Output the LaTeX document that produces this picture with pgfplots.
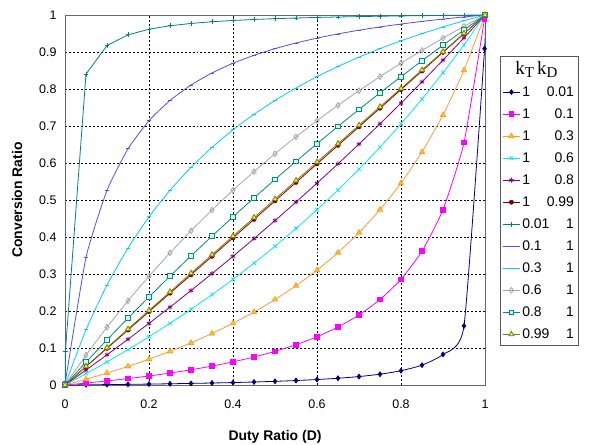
\documentclass[border=0pt]{standalone}
\usepackage{fontspec}
\setmainfont{Liberation Sans}
\newfontfamily\serif{Liberation Serif}
\usepackage{pgfplots}
\pgfplotsset{compat=1.18}

\definecolor{cNavy}{RGB}{0,0,128}
\definecolor{cMag}{RGB}{255,0,255}
\definecolor{cOrange}{RGB}{255,153,51}
\definecolor{cYellow}{RGB}{255,204,0}
\definecolor{cCyan}{RGB}{0,238,238}
\definecolor{cPurple}{RGB}{128,0,128}
\definecolor{cDRed}{RGB}{128,0,0}
\definecolor{cTeal}{RGB}{0,128,128}
\definecolor{cBlue}{RGB}{80,80,240}
\definecolor{cSky}{RGB}{0,204,255}
\definecolor{cGray}{RGB}{165,165,165}
\definecolor{cGreen}{RGB}{0,140,120}
\definecolor{cLGreen}{RGB}{204,255,230}
\definecolor{cOlive}{RGB}{128,128,0}
\definecolor{cLYel}{RGB}{240,240,80}

\newcommand{\lent}[2]{\makebox[1.75em][l]{#1}\makebox[1.95em][r]{#2}}

\begin{document}
\begin{tikzpicture}
\begin{axis}[
    scale only axis,
    width=420bp, height=370bp,
    xmin=0, xmax=1, ymin=0, ymax=1,
    xtick={0,0.2,...,1},
    ytick={0,0.1,...,1},
    xticklabels={0,0.2,0.4,0.6,0.8,1},
    yticklabels={0,0.1,0.2,0.3,0.4,0.5,0.6,0.7,0.8,0.9,1},
    major tick length=0pt,
    tick label style={font=\fontsize{12.5}{14}\selectfont},
    xticklabel style={yshift=-11bp},
    yticklabel style={xshift=-5bp},
    xmajorgrids, ymajorgrids,
    grid style={black, dash pattern=on 2pt off 2pt, line width=0.5pt},
    axis line style={draw=gray!80!black, line width=0.8pt},
    xlabel={\textbf{Duty Ratio (D)}},
    ylabel={\textbf{Conversion Ratio}},
    label style={font=\fontsize{14}{16}\selectfont},
    xlabel style={yshift=-15bp},
    ylabel style={yshift=10bp},
    every axis plot/.append style={line width=0.8pt, smooth, tension=0.3},
    legend style={at={(1.036,0.89)}, anchor=north west,
        draw=gray!70!black, line width=0.8pt,
        font=\fontsize{14}{16}\selectfont, row sep=6.8bp,
        inner xsep=2bp, inner ysep=3bp},
    legend cell align=left,
    legend image post style={line width=0.8pt},
]
\addlegendimage{empty legend}
\addlegendentry{\hspace{-0.5em}{\serif\fontsize{19}{20}\selectfont k\raisebox{-0.35ex}{\fontsize{15}{16}\selectfont T}\,k\raisebox{-0.35ex}{\fontsize{15}{16}\selectfont D}}}

\addplot[cNavy, mark=diamond*, mark size=2.4pt, mark options={fill=cNavy}] coordinates {
(0,0) (0.05,0.0005) (0.1,0.0011) (0.15,0.0018) (0.2,0.0025) (0.25,0.0033) (0.3,0.0043)
(0.35,0.0054) (0.4,0.0066) (0.45,0.0081) (0.5,0.0099) (0.55,0.0121) (0.6,0.0148)
(0.65,0.0182) (0.7,0.0228) (0.75,0.0291) (0.8,0.0385) (0.85,0.0536) (0.9,0.0826)
(0.95,0.1597) (0.999,0.909) (1,1)};
\addlegendentry{\lent{1}{0.01}}

\addplot[cMag, mark=square*, mark size=2.3pt, mark options={fill=cMag}] coordinates {
(0,0) (0.05,0.0052) (0.1,0.0110) (0.15,0.0173) (0.2,0.0244) (0.25,0.0323) (0.3,0.0411)
(0.35,0.0511) (0.4,0.0625) (0.45,0.0756) (0.5,0.0909) (0.55,0.1089) (0.6,0.1304)
(0.65,0.1566) (0.7,0.1892) (0.75,0.2308) (0.8,0.2857) (0.85,0.3617) (0.9,0.4737)
(0.95,0.6552) (0.999,0.9901) (1,1)};
\addlegendentry{\lent{1}{0.1}}

\addplot[cOrange, mark=triangle*, mark size=3pt, mark options={fill=cYellow, draw=cOrange}] coordinates {
(0,0) (0.05,0.0155) (0.1,0.0323) (0.15,0.0503) (0.2,0.0698) (0.25,0.0909) (0.3,0.1139)
(0.35,0.1391) (0.4,0.1667) (0.45,0.1971) (0.5,0.2308) (0.55,0.2683) (0.6,0.3103)
(0.65,0.3578) (0.7,0.4118) (0.75,0.4737) (0.8,0.5455) (0.85,0.6296) (0.9,0.7297)
(0.95,0.8507) (1,1)};
\addlegendentry{\lent{1}{0.3}}

\addplot[cCyan, mark=x, mark size=2.5pt] coordinates {
(0,0) (0.05,0.0306) (0.1,0.0625) (0.15,0.0957) (0.2,0.1304) (0.25,0.1667) (0.3,0.2045)
(0.35,0.2442) (0.4,0.2857) (0.45,0.3293) (0.5,0.375) (0.55,0.4231) (0.6,0.4737)
(0.65,0.5270) (0.7,0.5833) (0.75,0.6429) (0.8,0.7059) (0.85,0.7727) (0.9,0.8438)
(0.95,0.9194) (1,1)};
\addlegendentry{\lent{1}{0.6}}

\addplot[cPurple, mark=asterisk, mark size=2.5pt] coordinates {
(0,0) (0.05,0.0404) (0.1,0.0816) (0.15,0.1237) (0.2,0.1667) (0.25,0.2105) (0.3,0.2553)
(0.35,0.3011) (0.4,0.3478) (0.45,0.3956) (0.5,0.4444) (0.55,0.4944) (0.6,0.5455)
(0.65,0.5977) (0.7,0.6512) (0.75,0.7059) (0.8,0.7619) (0.85,0.8193) (0.9,0.8780)
(0.95,0.9383) (1,1)};
\addlegendentry{\lent{1}{0.8}}

\addplot[cDRed, mark=*, mark size=2pt, mark options={fill=cDRed}] coordinates {
(0,0) (0.05,0.0495) (0.1,0.0991) (0.15,0.1487) (0.2,0.1984) (0.25,0.2481) (0.3,0.2979)
(0.35,0.3477) (0.4,0.3976) (0.45,0.4475) (0.5,0.4975) (0.55,0.5475) (0.6,0.5976)
(0.65,0.6477) (0.7,0.6979) (0.75,0.7481) (0.8,0.7984) (0.85,0.8487) (0.9,0.8991)
(0.95,0.9495) (1,1)};
\addlegendentry{\lent{1}{0.99}}

\addplot[cTeal, mark=+, mark size=2.5pt, sharp plot] coordinates {
(0,0) (0.001,0.091) (0.05,0.8403) (0.1,0.9174) (0.15,0.9464) (0.2,0.9615) (0.25,0.9709)
(0.3,0.9772) (0.35,0.9818) (0.4,0.9852) (0.45,0.9879) (0.5,0.9901) (0.55,0.9919)
(0.6,0.9934) (0.65,0.9946) (0.7,0.9957) (0.75,0.9967) (0.8,0.9975) (0.85,0.9982)
(0.9,0.9989) (0.95,0.9995) (1,1)};
\addlegendentry{\lent{0.01}{1}}

\addplot[cBlue, mark=-, mark size=2.5pt] coordinates {
(0,0) (0.001,0.0099) (0.05,0.3448) (0.1,0.5263) (0.15,0.6383) (0.2,0.7143) (0.25,0.7692)
(0.3,0.8108) (0.35,0.8434) (0.4,0.8696) (0.45,0.8911) (0.5,0.9091) (0.55,0.9244)
(0.6,0.9375) (0.65,0.9489) (0.7,0.9589) (0.75,0.9677) (0.8,0.9756) (0.85,0.9827)
(0.9,0.9890) (0.95,0.9948) (1,1)};
\addlegendentry{\lent{0.1}{1}}

\addplot[cSky, mark=-, mark size=2.5pt] coordinates {
(0,0) (0.05,0.1493) (0.1,0.2703) (0.15,0.3704) (0.2,0.4545) (0.25,0.5263) (0.3,0.5882)
(0.35,0.6422) (0.4,0.6897) (0.45,0.7317) (0.5,0.7692) (0.55,0.8029) (0.6,0.8333)
(0.65,0.8609) (0.7,0.8861) (0.75,0.9091) (0.8,0.9302) (0.85,0.9497) (0.9,0.9677)
(0.95,0.9845) (1,1)};
\addlegendentry{\lent{0.3}{1}}

\addplot[cGray, mark=diamond, mark size=2.8pt, mark options={fill=white}] coordinates {
(0,0) (0.05,0.0806) (0.1,0.1563) (0.15,0.2273) (0.2,0.2941) (0.25,0.3571) (0.3,0.4167)
(0.35,0.4730) (0.4,0.5263) (0.45,0.5769) (0.5,0.625) (0.55,0.6707) (0.6,0.7143)
(0.65,0.7558) (0.7,0.7955) (0.75,0.8333) (0.8,0.8696) (0.85,0.9043) (0.9,0.9375)
(0.95,0.9694) (1,1)};
\addlegendentry{\lent{0.6}{1}}

\addplot[cGreen, mark=square*, mark size=2.3pt, mark options={fill=cLGreen, draw=cGreen}] coordinates {
(0,0) (0.05,0.0617) (0.1,0.1220) (0.15,0.1807) (0.2,0.2381) (0.25,0.2941) (0.3,0.3488)
(0.35,0.4023) (0.4,0.4545) (0.45,0.5056) (0.5,0.5556) (0.55,0.6044) (0.6,0.6522)
(0.65,0.6989) (0.7,0.7447) (0.75,0.7895) (0.8,0.8333) (0.85,0.8763) (0.9,0.9184)
(0.95,0.9596) (1,1)};
\addlegendentry{\lent{0.8}{1}}

\addplot[cOlive, mark=triangle*, mark size=3pt, mark options={fill=cLYel, draw=cOlive}] coordinates {
(0,0) (0.05,0.0505) (0.1,0.1009) (0.15,0.1513) (0.2,0.2016) (0.25,0.2519) (0.3,0.3021)
(0.35,0.3523) (0.4,0.4024) (0.45,0.4525) (0.5,0.5025) (0.55,0.5525) (0.6,0.6024)
(0.65,0.6523) (0.7,0.7021) (0.75,0.7519) (0.8,0.8016) (0.85,0.8513) (0.9,0.9009)
(0.95,0.9505) (1,1)};
\addlegendentry{\lent{0.99}{1}}
\end{axis}
\pgfresetboundingbox
\useasboundingbox ([xshift=-65bp,yshift=-60bp]current axis.south west) rectangle ([xshift=104bp,yshift=15bp]current axis.north east);
\end{tikzpicture}
\end{document}
